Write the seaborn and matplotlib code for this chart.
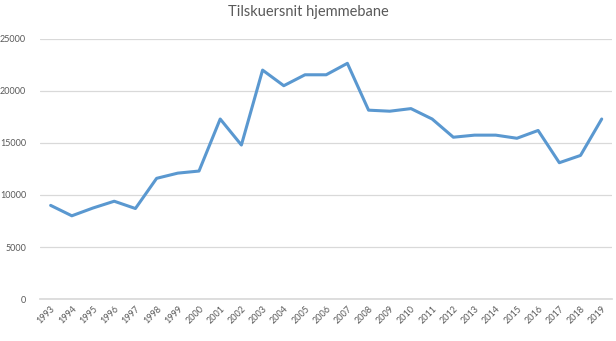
import pandas as pd
import matplotlib
matplotlib.use("Agg")
import matplotlib.pyplot as plt
import seaborn as sns

years = list(range(1993, 2020))
spectators = [9000, 8000, 8750, 9400, 8700, 11600, 12100, 12300, 17300, 14800,
              22000, 20500, 21550, 21550, 22650, 18150, 18050, 18300, 17300, 15550,
              15750, 15750, 15450, 16200, 13100, 13800, 17300]
y_ticks = [0, 5000, 10000, 15000, 20000, 25000]

sns.set_theme(style="white")
plt.rcParams['font.family'] = ['Lato', 'DejaVu Sans']

df = pd.DataFrame({"year": years, "tilskuere": spectators})

fig = plt.figure(figsize=(6.16, 3.41), dpi=100)
ax = fig.add_axes([0.065, 0.123, 0.929, 0.763])

ax.set_ylim(0, 25000)
ax.set_xlim(1992.5, 2019.5)
ax.set_yticks(y_ticks)
ax.yaxis.grid(True, color="#d9d9d9", linewidth=0.9)
ax.set_axisbelow(True)

sns.lineplot(data=df, x="year", y="tilskuere", ax=ax, color="#5a98d0",
             linewidth=2.2)

ax.set_xticks(years)
ax.set_xticklabels([str(y) for y in years], rotation=45, ha="right",
                   rotation_mode="anchor", fontsize=6.5, color="#595959")
ax.tick_params(axis="y", labelsize=6.5, labelcolor="#595959", length=0, pad=10)
ax.tick_params(axis="x", length=0, pad=4)
for s in ["top", "right", "left"]:
    ax.spines[s].set_visible(False)
ax.spines["bottom"].set_color("#d9d9d9")
ax.set_xlabel("")
ax.set_ylabel("")

fig.suptitle("Tilskuersnit hjemmebane", x=0.5, y=0.985, fontsize=10.5,
             color="#595959")

fig.savefig("out.png", dpi=100, facecolor="white")
